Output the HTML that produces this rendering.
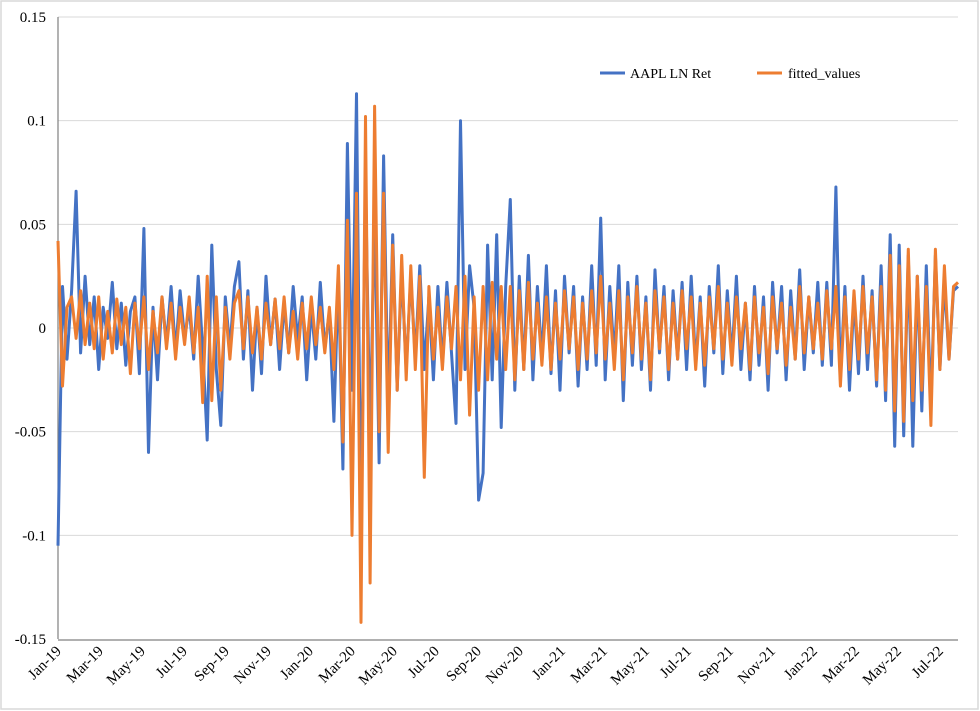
<!DOCTYPE html>
<html><head><meta charset="utf-8"><style>
body{margin:0;background:#fff;}
svg{display:block;font-family:"Liberation Serif",serif;}
</style></head><body>
<svg id="chart" width="980" height="711">
<rect x="1" y="1" width="977" height="708" fill="#fff" stroke="#d9d9d9" stroke-width="1.5"/>
<g id="grid"></g>
<g id="yaxis"></g>
<g id="xaxis"></g>
<g id="series"></g>
<g>
<g>
<line x1="600" y1="73" x2="625" y2="73" stroke="#4472C4" stroke-width="3"/>
<text x="630" y="78" font-size="14" fill="#000">AAPL LN Ret</text></g>
<g>
<line x1="757" y1="73" x2="782" y2="73" stroke="#ED7D31" stroke-width="3"/>
<text x="788" y="78" font-size="14" fill="#000">fitted_values</text></g>
</g>
</svg>
<script>
// values in thousandths
const aapl=[-105,20,-15,18,66,-12,25,-8,15,-20,10,-5,22,-10,12,-18,8,15,-22,48,
-60,10,-25,15,-8,20,-12,18,-5,10,-15,25,-10,-54,40,-20,-47,15,-10,20,
32,-15,18,-30,10,-22,25,-8,14,-20,12,-12,20,-6,15,-25,10,-15,22,-10,
8,-45,25,-68,89,-30,113,-99,72,-55,60,-65,83,-40,45,-30,28,-20,25,-15,
30,-20,15,-25,20,-18,22,-12,-46,100,-20,30,10,-83,-70,40,-25,45,-48,20,
62,-30,25,-20,35,-25,20,-15,30,-22,18,-30,25,-12,20,-28,15,-20,30,-18,
53,-25,20,-15,30,-35,22,-18,25,-20,15,-30,28,-12,20,-25,18,-15,22,-20,
25,-18,15,-28,20,-12,30,-22,18,-15,25,-20,12,-25,20,-18,15,-30,22,-12,
20,-25,18,-15,28,-20,15,-12,22,-18,22,-18,68,-25,20,-30,15,-22,25,-20,
18,-28,30,-35,45,-57,40,-52,35,-57,25,-40,30,-38,35,-20,22,-15,18,20];
const fitted=[42,-28,10,15,-5,18,-8,12,-10,15,-15,8,-12,14,-8,10,-22,12,-10,15,
-20,8,-12,15,-10,12,-15,10,-8,15,-12,10,-36,25,-35,15,-30,10,-15,12,
18,-10,15,-12,10,-15,12,-8,14,-10,15,-12,8,-15,12,-10,15,-8,10,-12,
10,-20,30,-55,52,-100,65,-142,102,-123,107,-50,65,-60,40,-30,35,-25,30,-20,
25,-72,20,-15,10,-20,15,-10,20,-25,25,-42,15,-30,20,-25,22,-15,20,-20,
20,-25,18,-20,22,-15,12,-18,15,-20,12,-15,18,-10,15,-20,12,-15,18,-12,
25,-15,12,-20,18,-25,15,-12,20,-15,12,-25,18,-10,15,-20,12,-15,18,-10,
15,-20,12,-18,15,-10,20,-15,12,-18,15,-10,12,-20,15,-12,10,-22,15,-10,
12,-18,10,-15,20,-12,15,-10,12,-15,18,-10,20,-28,15,-20,18,-15,20,-12,
15,-25,20,-30,35,-40,30,-45,38,-35,25,-30,20,-47,38,-20,30,-15,20,22];
const yTicks=[0.15,0.1,0.05,0,-0.05,-0.1,-0.15];
const yTickLabels=["0.15","0.1","0.05","0","-0.05","-0.1","-0.15"];
const xTickLabels=["Jan-19","Mar-19","May-19","Jul-19","Sep-19","Nov-19","Jan-20","Mar-20","May-20","Jul-20","Sep-20","Nov-20","Jan-21","Mar-21","May-21","Jul-21","Sep-21","Nov-21","Jan-22","Mar-22","May-22","Jul-22"];

const NS="http://www.w3.org/2000/svg";
const L=58,R=958,T=17,B=639;
const y=v=>B-(v+0.15)/0.30*(B-T);
const xi=i=>L+i*(R-L)/(aapl.length-1);
const xm=m=>L+m*(940-L)/42;
function mk(tag,attrs,parent){const e=document.createElementNS(NS,tag);for(const k in attrs)e.setAttribute(k,attrs[k]);parent.appendChild(e);return e;}
const grid=document.getElementById('grid'),ya=document.getElementById('yaxis'),xa=document.getElementById('xaxis'),ser=document.getElementById('series');
yTicks.forEach((v,k)=>{
  if(v!==-0.15){const g=mk('line',{x1:L,x2:R,y1:y(v),y2:y(v),stroke:'#d9d9d9','stroke-width':1},grid);
  
  }
  const t=mk('text',{x:46,y:y(v)+5,'text-anchor':'end','font-size':15,fill:'#000'},ya);
  t.textContent=yTickLabels[k];
  
  
});
const ax=mk('line',{x1:L,x2:L,y1:T,y2:B,stroke:'#808080','stroke-width':1.2},ya);


const bx=mk('line',{x1:L,x2:R,y1:B+1,y2:B+1,stroke:'#808080','stroke-width':1.2},xa);


xTickLabels.forEach((s,k)=>{
  const px=xm(k*2);
  const t=mk('text',{x:px+4,y:652,'text-anchor':'end','font-size':15,fill:'#000',transform:`rotate(-45 ${px+4} 652)`},xa);
  t.textContent=s;
  
  
});
function line(data,color,name){
  const d=data.map((v,i)=>(i?'L':'M')+xi(i).toFixed(1)+' '+y(v/1000).toFixed(1)).join(' ');
  const p=mk('path',{d:d,fill:'none',stroke:color,'stroke-width':3,'stroke-linejoin':'round'},ser);
  
  
}
line(aapl,'#4472C4','aapl-ln-ret-line');
line(fitted,'#ED7D31','fitted-values-line');
</script>
</body></html>
